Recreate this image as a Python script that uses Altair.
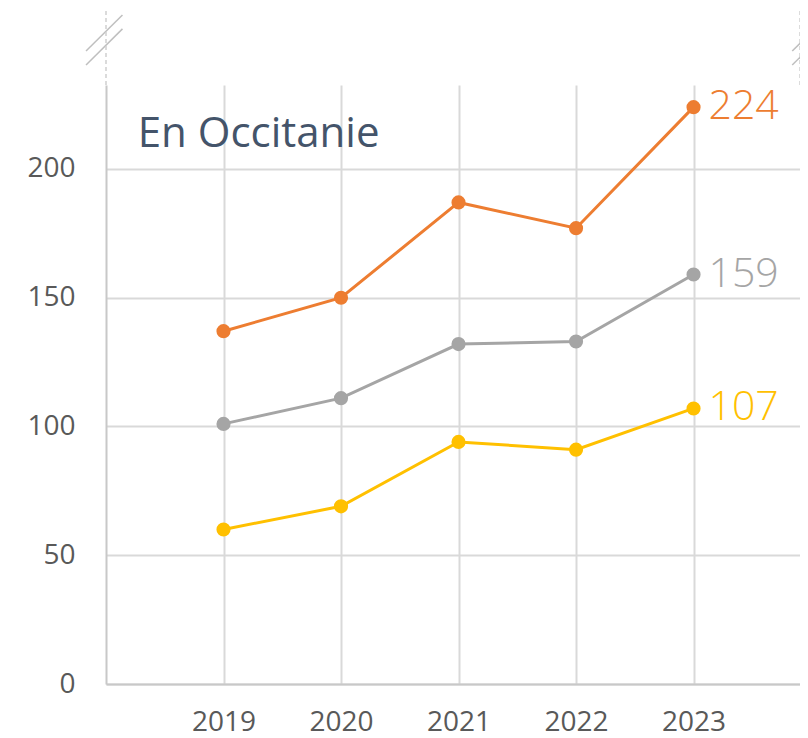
import altair as alt
import pandas as pd

years = [2019, 2020, 2021, 2022, 2023]
series_names = ["Série 1", "Série 2", "Série 3"]
orange_values = [137, 150, 187, 177, 224]
grey_values = [101, 111, 132, 133, 159]
yellow_values = [60, 69, 94, 91, 107]
line_colors = ["#ED7D31", "#A5A5A5", "#FFC000"]
label_colors = ["#C55A11", "#7F7F7F", "#FFC000"]
y_ticks = [0, 50, 100, 150, 200]
title_text = "En Occitanie"

rows = []
for name, vals in zip(series_names, [orange_values, grey_values, yellow_values]):
    for yr, v in zip(years, vals):
        rows.append({"year": yr, "value": v, "serie": name})
df = pd.DataFrame(rows)
last = df[df["year"] == years[-1]].copy()
last["label"] = last["value"].astype(str)

X_MIN, X_MAX = 2018, 2023.906
Y_MAX = 232.6

# axis-break decorations (in data units, above the plotted range)
breaks = pd.DataFrame([
    {"x": X_MIN, "y": Y_MAX, "x2": X_MIN, "y2": 262.5, "dash": 1},
    {"x": X_MAX, "y": Y_MAX, "x2": X_MAX, "y2": 262.5, "dash": 1},
    {"x": 2017.83, "y": 245.8, "x2": 2018.14, "y2": 259.8, "dash": 0},
    {"x": 2017.83, "y": 240.4, "x2": 2018.14, "y2": 254.4, "dash": 0},
    {"x": 2023.84, "y": 245.8, "x2": 2024.15, "y2": 259.8, "dash": 0},
    {"x": 2023.84, "y": 240.4, "x2": 2024.15, "y2": 254.4, "dash": 0},
])

xscale = alt.Scale(domain=[X_MIN, X_MAX], nice=False, zero=False)
yscale = alt.Scale(domain=[0, Y_MAX], nice=False)
cscale = alt.Scale(domain=series_names, range=line_colors)
lscale = alt.Scale(domain=series_names, range=label_colors)

x_enc = alt.X("year:Q", scale=xscale,
              axis=alt.Axis(values=years, format="d", title=None, grid=True,
                            ticks=False, labelFontSize=28, labelPadding=24,
                            labelColor="#595959", labelFont="Open Sans",
                            domainColor="#C8C8C8", domainWidth=2,
                            gridColor="#D9D9D9", gridWidth=2))
y_enc = alt.Y("value:Q", scale=yscale,
              axis=alt.Axis(values=y_ticks, title=None, grid=True, ticks=False,
                            labelFontSize=28, labelPadding=31, labelColor="#595959",
                            labelFont="Open Sans", domainColor="#C8C8C8",
                            domainWidth=2, gridColor="#D9D9D9", gridWidth=2))

lines = alt.Chart(df).mark_line(strokeWidth=3).encode(
    x=x_enc, y=y_enc,
    color=alt.Color("serie:N", scale=cscale, legend=None),
)
points = alt.Chart(df).mark_circle(size=200, opacity=1).encode(
    x="year:Q", y="value:Q",
    color=alt.Color("serie:N", scale=cscale, legend=None),
)
end_labels = alt.Chart(last).mark_text(
    align="left", baseline="middle", dx=15, dy=0, fontSize=41,
    font="Open Sans", fontWeight=300,
).encode(
    x="year:Q", y="value:Q", text="label:N",
    color=alt.Color("serie:N", scale=lscale, legend=None),
)
title = alt.Chart(pd.DataFrame({"x": [2018.27], "y": [208.5], "t": [title_text]})).mark_text(
    align="left", baseline="alphabetic", fontSize=42, font="Open Sans", color="#44546A",
).encode(x="x:Q", y="y:Q", text="t:N")

break_lines = alt.Chart(breaks[breaks["dash"] == 0]).mark_rule(
    color="#BFBFBF", strokeWidth=1.5, clip=False
).encode(x="x:Q", y="y:Q", x2="x2:Q", y2="y2:Q")
break_dashes = alt.Chart(breaks[breaks["dash"] == 1]).mark_rule(
    color="#D0D0D0", strokeWidth=1.5, strokeDash=[4, 3], clip=False
).encode(x="x:Q", y="y:Q", x2="x2:Q", y2="y2:Q")

chart = alt.layer(lines, points, end_labels, title, break_lines, break_dashes).properties(
    width=694, height=599,
    autosize=alt.AutoSizeParams(type="none"),
    padding={"left": 98, "top": 77, "right": 0, "bottom": 54},
).configure_view(stroke=None)

chart.save("out.html", embed_options={"renderer": "svg", "actions": False})
